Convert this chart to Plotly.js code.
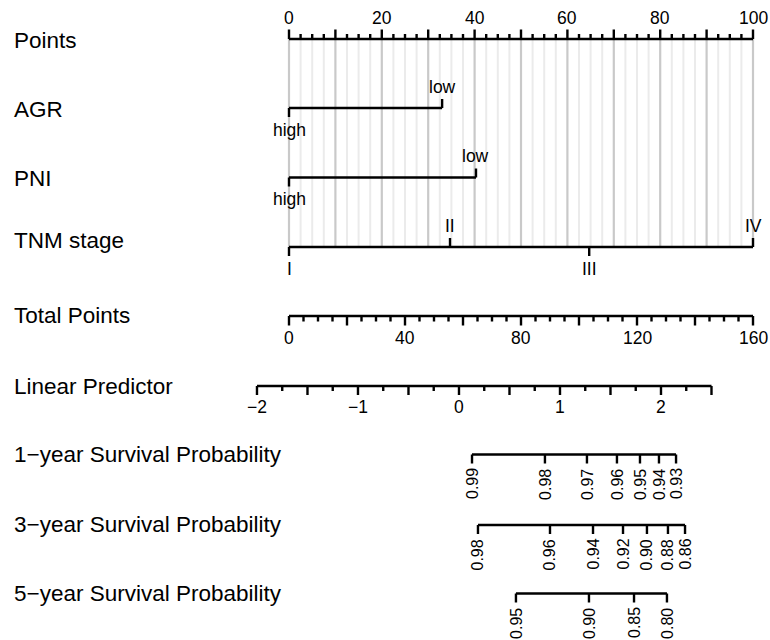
<!DOCTYPE html>
<html>
<head>
<meta charset="utf-8">
<script src="https://cdn.plot.ly/plotly-3.0.1.min.js"></script>
<style>html,body{margin:0;padding:0;background:#fff;}#chart{width:770px;height:640px;}</style>
</head>
<body>
<div id="chart"></div>
<script>
// ---------------- DATA ----------------
const rowLabels = ["Points", "AGR", "PNI", "TNM stage", "Total Points", "Linear Predictor",
  "1\u2212year Survival Probability", "3\u2212year Survival Probability", "5\u2212year Survival Probability"];

const pointsTickLabels = [0, 20, 40, 60, 80, 100];

const agrLevels = ["low", "high"];
const agrPoints = [33, 0];

const pniLevels = ["low", "high"];
const pniPoints = [40.3, 0];

const tnmLevels = ["I", "II", "III", "IV"];
const tnmPoints = [0, 34.7, 64.7, 100];

const totalPointsTickLabels = [0, 40, 80, 120, 160];
const totalPointsMax = 160;

const lpTickLabels = [-2, -1, 0, 1, 2];
const lpRange = [-2, 2.5];
// linear predictor value at total points = 0 and at total points = 160
const lpAtTotal0 = -1.683;
const lpAtTotalMax = 2.911;

const surv1Labels = ["0.99", "0.98", "0.97", "0.96", "0.95", "0.94", "0.93"];
const surv1LP = [0.129, 0.851, 1.267, 1.564, 1.792, 1.980, 2.149];

const surv3Labels = ["0.98", "0.96", "0.94", "0.92", "0.90", "0.88", "0.86"];
const surv3LP = [0.188, 0.901, 1.327, 1.624, 1.861, 2.069, 2.238];

const surv5Labels = ["0.95", "0.90", "0.85", "0.80"];
const surv5LP = [0.564, 1.287, 1.733, 2.059];

// ---------------- LAYOUT CONFIG ----------------
const W = 770, H = 640;
const px0 = 289, px100 = 753;                 // pixel of points 0 and 100
const ppp = (px100 - px0) / 100;
const xRange = [-px0 / ppp, (W - px0) / ppp];

const rowY = {points: 39, agr: 108, pni: 177.5, tnm: 247, total: 316, lp: 386, s1: 454.5, s3: 525, s5: 593.5};
const labelY = [40, 109, 178, 240, 315.5, 386, 454, 524.5, 593];

const FONT = "Liberation Sans, Arial, Helvetica, sans-serif";
const labelSize = 22.5, tickSize = 17.5, survSize = 16;

const tp2pts = tp => tp * 100 / totalPointsMax;
const lp2pts = lp => tp2pts((lp - lpAtTotal0) / (lpAtTotalMax - lpAtTotal0) * totalPointsMax);

function range(a, b, step) { const r = []; for (let v = a; v <= b + 1e-9; v += step) r.push(+v.toFixed(6)); return r; }

function segs(xs, y0, y1) {
  const x = [], y = [];
  xs.forEach(v => { x.push(v, v, null); y.push(y0, y1, null); });
  return {x, y};
}

const traces = [];
function addLine(obj, color, width) {
  traces.push({type: "scatter", mode: "lines", x: obj.x, y: obj.y, hoverinfo: "skip",
    line: {color: color, width: width}, showlegend: false, cliponaxis: false});
}

const annotations = [];
function addText(text, x, y, xanchor, yanchor, size, angle, xref) {
  annotations.push({text: text, x: x, y: y, xref: xref || "x", yref: "y", showarrow: false,
    xanchor: xanchor, yanchor: yanchor, textangle: angle || 0, borderpad: 0,
    font: {family: FONT, size: size, color: "#000"}});
}

// grid lines
const gridMinor = range(0, 100, 2.5).filter(v => Math.abs(v % 10) > 1e-6);
const gridMajor = range(0, 100, 10);
addLine(segs(gridMinor, rowY.points, rowY.tnm), "#ebebeb", 2);
addLine(segs(gridMajor, rowY.points, rowY.tnm), "#c9c9c9", 2.2);

const BLK = "#000", LW = 2.4;

// Points scale
addLine({x: [0, 100], y: [rowY.points, rowY.points]}, BLK, LW);
addLine(segs(range(0, 100, 2.5).filter(v => Math.abs(v % 10) > 1e-6), rowY.points, rowY.points - 5), BLK, LW);
addLine(segs(range(0, 100, 10), rowY.points, rowY.points - 9.5), BLK, LW);
pointsTickLabels.forEach(v => addText(String(v), v, rowY.points - 10.5, "center", "bottom", tickSize));

// Factor rows
function factorRow(levels, pts, y) {
  addLine({x: [Math.min(...pts), Math.max(...pts)], y: [y, y]}, BLK, LW);
  const order = pts.map((p, i) => i).sort((a, b) => pts[a] - pts[b]);
  order.forEach((idx, k) => {
    const below = k % 2 === 0;
    const p = pts[idx];
    addLine({x: [p, p], y: [y, below ? y + 9 : y - 9]}, BLK, LW);
    addText(levels[idx], p, below ? y + 10.5 : y - 10.5, "center", below ? "top" : "bottom", tickSize);
  });
}
factorRow(agrLevels, agrPoints, rowY.agr);
factorRow(pniLevels, pniPoints, rowY.pni);
factorRow(tnmLevels, tnmPoints, rowY.tnm);

// Total points
addLine({x: [0, tp2pts(totalPointsMax)], y: [rowY.total, rowY.total]}, BLK, LW);
addLine(segs(range(0, totalPointsMax, 5).filter(v => v % 20 !== 0).map(tp2pts), rowY.total, rowY.total + 5.5), BLK, LW);
addLine(segs(range(0, totalPointsMax, 20).map(tp2pts), rowY.total, rowY.total + 9.5), BLK, LW);
totalPointsTickLabels.forEach(v => addText(String(v), tp2pts(v), rowY.total + 10.5, "center", "top", tickSize));

// Linear predictor
addLine({x: [lp2pts(lpRange[0]), lp2pts(lpRange[1])], y: [rowY.lp, rowY.lp]}, BLK, LW);
addLine(segs(range(lpRange[0], lpRange[1], 0.25).filter(v => Math.abs((v * 2) % 1) > 1e-6).map(lp2pts), rowY.lp, rowY.lp + 5), BLK, LW);
addLine(segs(range(lpRange[0], lpRange[1], 0.5).map(lp2pts), rowY.lp, rowY.lp + 9), BLK, LW);
lpTickLabels.forEach(v => addText(String(v).replace("-", "\u2212"), lp2pts(v), rowY.lp + 10, "center", "top", tickSize));

// Survival rows
function survRow(labels, lps, y) {
  const xs = lps.map(lp2pts);
  addLine({x: [Math.min(...xs), Math.max(...xs)], y: [y, y]}, BLK, LW);
  addLine(segs(xs, y, y + 9), BLK, LW);
  labels.forEach((t, i) => addText(t, xs[i], y + 13, "center", "top", survSize, -90));
}
survRow(surv1Labels, surv1LP, rowY.s1);
survRow(surv3Labels, surv3LP, rowY.s3);
survRow(surv5Labels, surv5LP, rowY.s5);

// Row labels
rowLabels.forEach((t, i) => addText(t, 13 / W, labelY[i], "left", "middle", labelSize, 0, "paper"));

const layout = {
  width: W, height: H,
  margin: {l: 0, r: 0, t: 0, b: 0},
  paper_bgcolor: "#fff", plot_bgcolor: "#fff",
  showlegend: false,
  xaxis: {range: xRange, visible: false, fixedrange: true},
  yaxis: {range: [H, 0], visible: false, fixedrange: true},
  annotations: annotations,
  font: {family: FONT}
};

Plotly.newPlot("chart", traces, layout, {displayModeBar: false, staticPlot: true});
</script>
</body>
</html>
